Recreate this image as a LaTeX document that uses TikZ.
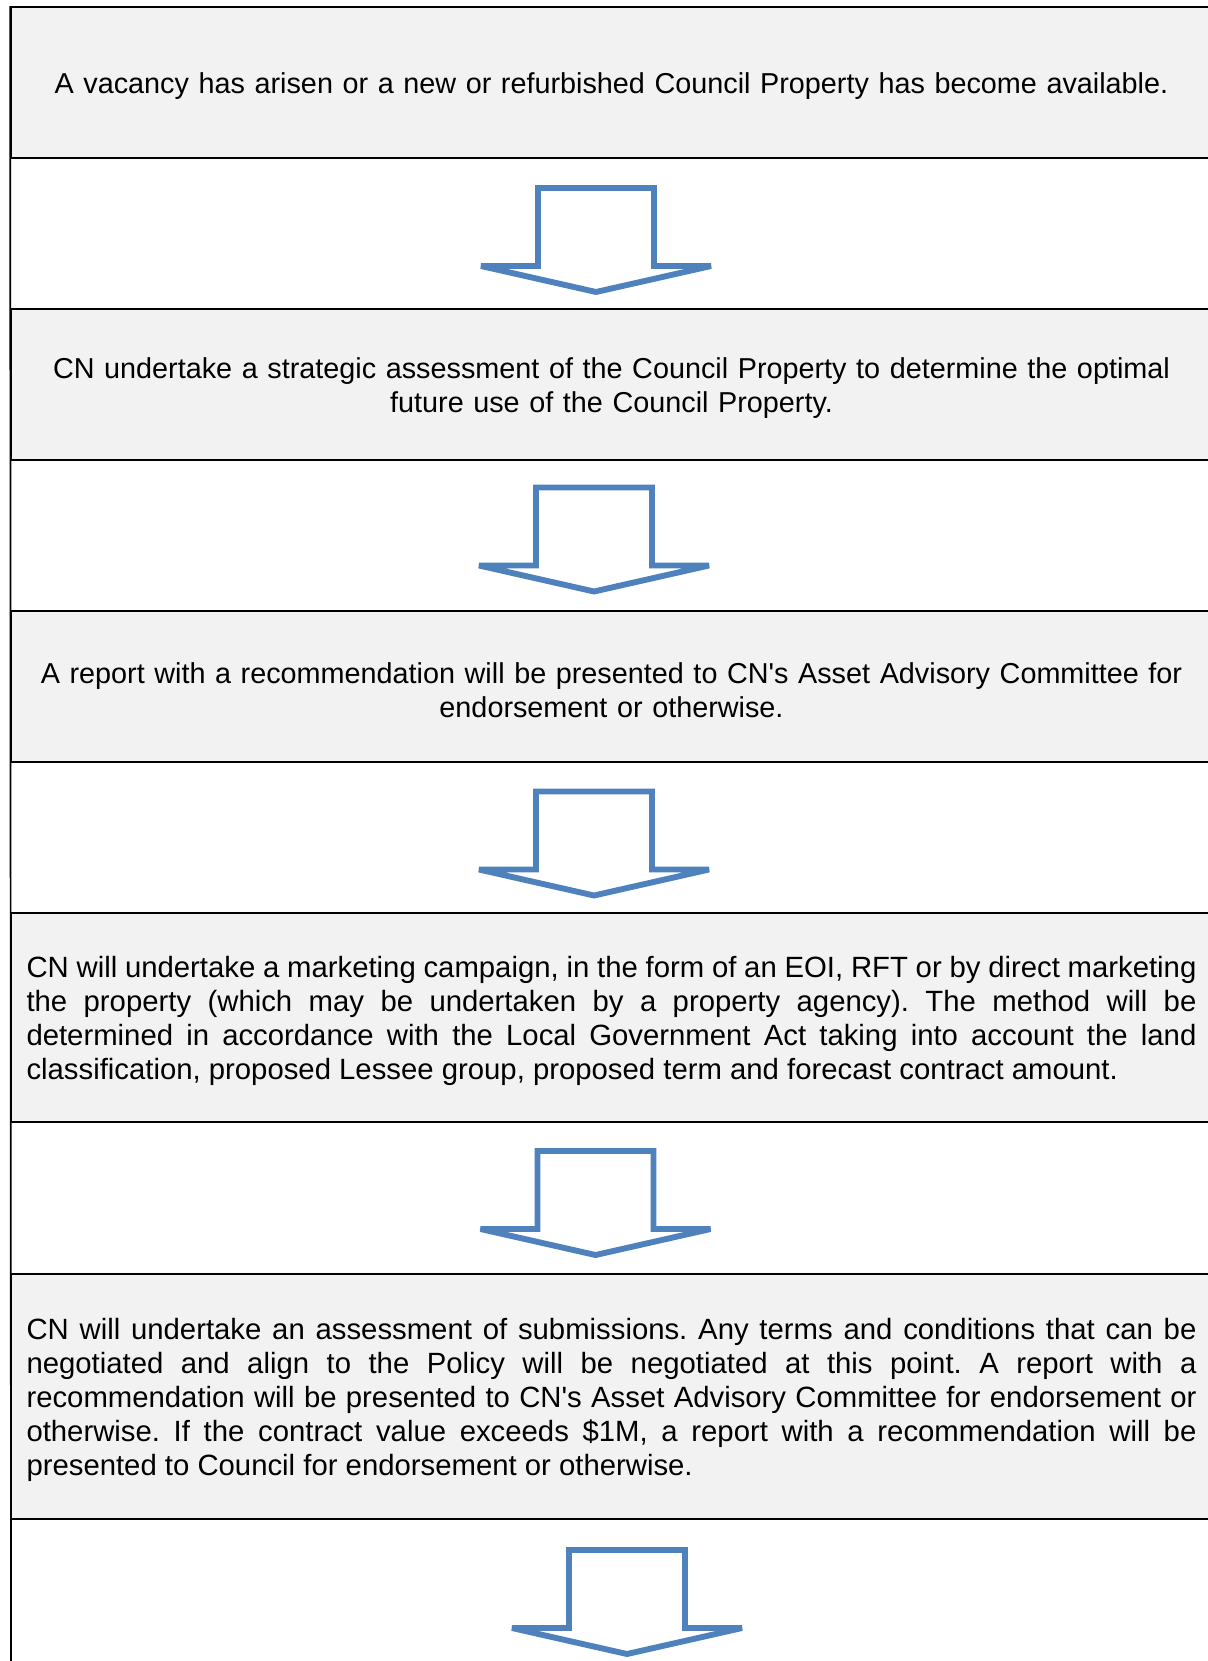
\documentclass[tikz,border=0pt]{standalone}
\usepackage{fontspec}
\setmainfont{Liberation Sans}
\definecolor{cellgray}{RGB}{242,242,242}
\definecolor{arrowblue}{RGB}{79,129,189}
\newcommand{\cellfont}[1]{\fontsize{#1}{13.8pt}\selectfont\frenchspacing
  \hyphenpenalty=10000\relax\tolerance=10000\relax}
\tikzset{
  cell/.style={draw=black, fill=cellgray, line width=0.7pt,
               minimum width=488.9pt, minimum height=#1, text width=476.3pt,
               inner xsep=0pt, inner ysep=0pt, align=center,
               font={\cellfont{11.72pt}},
               execute at begin node={\rule{0pt}{11.3pt}}},
  celljust/.style={cell=#1, align=justify, font={\cellfont{11.93pt}}},
  tableline/.style={draw=black, line width=0.7pt},
  blkarrow/.pic={
    \draw[draw=arrowblue, line width=2.4pt, miter limit=2]
      (-58,0) -- (58,0) -- (58,78) -- (115,78) -- (0,104)
      -- (-115,78) -- (-58,78) -- cycle;
  },
}
\begin{document}
\begin{tikzpicture}[x=0.4071pt, y=-0.4071pt]
    \clip (0,0) rectangle (1208,1661);

    \node[cell=61.5pt]     (vacancy) at (611.5,82.5)   {A vacancy has arisen or a new or refurbished Council Property has become available.};
    \node[cell=61.3pt]     (assess)  at (611.5,384.6)  {CN undertake a strategic assessment of the Council Property to determine the optimal\\future use of the Council Property.};
    \node[cell=61.7pt]     (report)  at (611.5,686.5)  {A report with a recommendation will be presented to CN\textquotesingle s Asset Advisory Committee for\\endorsement or otherwise.};
    \node[celljust=84.9pt] (market)  at (611.5,1017.6) {CN will undertake a marketing campaign, in the form of an EOI, RFT or by direct marketing\linebreak the property (which may be undertaken by a property agency). The method will be\linebreak determined in accordance with the Local Government Act taking into account the land\linebreak classification, proposed Lessee group, proposed term and forecast contract amount.};
    \node[celljust=99.9pt] (submit)  at (611.5,1396.4) {CN will undertake an assessment of submissions. Any terms and conditions that can be\linebreak negotiated and align to the Policy will be negotiated at this point. A report with a\linebreak recommendation will be presented to CN\textquotesingle s Asset Advisory Committee for endorsement or\linebreak otherwise. If the contract value exceeds \$1M, a report with a recommendation will be\linebreak presented to Council for endorsement or otherwise.};

    \coordinate (tablebottom) at (11,1670);
    \draw[tableline] (vacancy.north west) -- (tablebottom);

    \pic at (596,188)    {blkarrow};
    \pic at (594,487.5)  {blkarrow};
    \pic at (594,791.5)  {blkarrow};
    \pic at (595.5,1151) {blkarrow};
    \pic at (627,1550)   {blkarrow};
  \end{tikzpicture}
\end{document}
